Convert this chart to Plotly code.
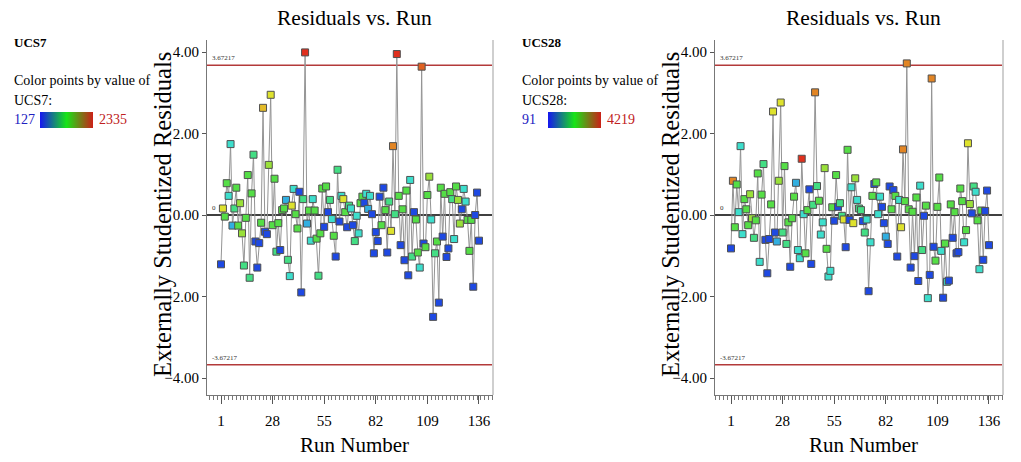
import plotly.graph_objects as go

W, H = 1021, 462

runs = list(range(1, 137))
x_ticks = [1, 28, 55, 82, 109, 136]
y_ticks = [-4, -2, 0, 2, 4]
limit = 3.67217

ucs7_resid = [
    -1.21, 0.16, -0.04, 0.78, 0.47, 1.74, -0.26, 0.16, 0.67, -0.26,
    0.29, -0.45, -1.24, -0.07, 0.98, -1.54, 0.53, 1.48, -0.65, -1.29,
    -0.69, -0.19, 2.63, -0.41, -0.47, 1.23, 2.95, -0.25, 0.89, -0.90,
    -0.20, -0.86, 0.12, 0.16, 0.37, -1.10, -1.50, 0.23, 0.64, 0.02,
    -0.33, 0.57, -1.90, 0.39, 3.99, -0.21, 0.11, -0.63, 0.39, 0.11,
    -0.58, -1.49, -0.45, 0.65, -0.29, 0.70, 0.07, 0.37, -0.10, -0.51,
    -1.02, 1.11, -0.16, 0.47, 0.39, 0.07, -0.30, 0.23, 0.16, -0.25,
    -0.64, -0.02, -0.45, 0.29, 0.45, 0.30, 0.52, 0.15, 0.47, 0.02,
    -0.94, -0.42, -0.64, 0.45, -0.25, 0.67, 0.12, -0.92, 0.33, -0.39,
    1.69, 0.02, 3.95, 0.47, -0.74, 0.14, -1.11, 0.60, -1.48, 0.86,
    -1.02, 0.07, -0.11, -0.92, -1.29, 3.64, -0.70, -0.79, 0.49, 0.94,
    -0.11, -2.50, -0.94, -0.65, -2.15, 0.67, -0.53, 0.52, -1.03, -0.82,
    0.56, 0.39, -0.59, 0.70, 0.37, -0.21, 0.14, 0.64, 0.33, -0.12,
    -0.88, -0.12, -1.76, 0.00, 0.55, -0.63,
]
ucs7_value = [
    193, 1761, 1275, 1275, 745, 745, 524, 1010, 1275, 1275,
    1518, 1518, 1010, 1275, 1275, 1010, 1275, 1010, 193, 193,
    193, 1275, 1893, 193, 193, 1518, 1761, 1275, 1275, 1010,
    1275, 193, 1275, 1275, 524, 1010, 745, 1761, 745, 1275,
    1275, 193, 193, 1010, 2291, 524, 1275, 745, 745, 1275,
    1275, 1010, 1275, 1275, 193, 1275, 193, 1010, 745, 1275,
    193, 1010, 193, 745, 1761, 1275, 193, 1010, 745, 193,
    1010, 745, 745, 1275, 1275, 193, 745, 524, 745, 193,
    193, 193, 193, 193, 1275, 193, 1275, 193, 1010, 1761,
    2048, 1010, 2291, 1275, 193, 1275, 193, 1275, 193, 745,
    1010, 193, 1275, 1275, 745, 2150, 193, 1275, 1275, 1518,
    745, 193, 1010, 1275, 193, 1275, 193, 1275, 193, 193,
    1275, 1010, 745, 1275, 1518, 1518, 193, 745, 745, 1275,
    1275, 1275, 193, 193, 193, 193,
]
ucs7_range = [127, 2335]

ucs28_resid = [
    -0.82, 0.84, -0.30, 0.75, 0.07, 1.69, -0.47, 0.39, 0.14, -0.25,
    0.51, -0.08, -0.56, -0.13, 1.02, -1.15, 0.50, 1.25, -0.61, -1.43,
    -0.59, 0.26, 2.54, -0.43, -0.65, 0.84, 2.76, -0.43, 1.20, -0.71,
    -0.18, -1.27, -0.08, 0.45, 0.79, -0.86, -1.06, 1.38, 0.02, -0.94,
    0.12, 0.63, -1.20, 0.25, 3.01, 0.71, 0.35, -0.48, -0.18, 1.15,
    -0.83, -1.51, -1.37, 0.19, -0.14, 0.98, 0.20, 0.29, -0.02, -0.11,
    -0.79, 1.60, -0.12, 0.68, -0.20, 0.90, 0.37, 0.16, 0.12, -0.15,
    -0.43, -0.11, -1.87, -0.67, 0.47, 0.76, 0.80, 0.02, 0.45, 0.20,
    -0.20, -0.53, -0.71, 0.70, 0.14, 0.61, 0.47, -1.02, 0.37, -0.30,
    1.61, 0.34, 3.72, 0.14, -1.29, 0.08, -1.01, 0.43, -1.62, 0.72,
    -0.86, -0.02, 0.23, -2.04, -1.47, 3.35, -0.78, -1.12, 0.20, 0.92,
    -0.88, -2.03, -0.70, -1.64, -1.61, 0.26, -0.56, 0.07, -0.94, -0.91,
    0.65, 0.34, -0.67, -0.37, 1.76, 0.27, 0.04, 0.70, 0.57, -0.13,
    -1.33, 0.11, -1.10, 0.10, 0.60, -0.74,
]
ucs28_value = [
    215, 3682, 2238, 2238, 1247, 1247, 1247, 2238, 2238, 2238,
    2692, 2692, 1742, 2238, 2238, 1247, 2238, 1742, 215, 215,
    215, 2238, 3146, 215, 834, 2692, 3146, 1742, 2238, 1742,
    2238, 215, 2238, 2238, 834, 1247, 1247, 4136, 1247, 2238,
    2238, 215, 215, 1742, 3682, 1742, 2238, 1247, 1247, 2692,
    2238, 1247, 1247, 2238, 215, 2238, 215, 1742, 1742, 3146,
    215, 2238, 215, 1247, 3146, 2692, 1247, 1742, 1742, 215,
    1742, 1247, 215, 1247, 2238, 215, 2238, 1247, 1247, 215,
    215, 834, 215, 215, 2238, 215, 2238, 215, 1247, 3146,
    3682, 2238, 3682, 2238, 215, 2238, 215, 2238, 215, 1247,
    1742, 215, 2238, 1247, 215, 3682, 215, 2238, 2238, 2238,
    1247, 215, 2238, 1247, 215, 2238, 215, 2238, 215, 215,
    2238, 2238, 1247, 2238, 3146, 2692, 215, 1742, 1247, 2238,
    1247, 2238, 215, 215, 215, 215,
]
ucs28_range = [91, 4219]

SERIF = "Liberation Serif, Times New Roman, serif"
point_scale = [[0, "#1a35e4"], [0.25, "#3cdede"], [0.5, "#48de48"],
               [0.75, "#e4e22c"], [1, "#e0201c"]]
bar_scale = [[0, "#1616f0"], [0.5, "#18e418"], [1, "#cc2018"]]


def px(x):
    return x / W


def py(y):
    return 1 - y / H


fig = go.Figure()

panels = [
    dict(name="UCS7", resid=ucs7_resid, val=ucs7_value, rng=ucs7_range,
         ax_left=207, ax_right=493, legend_x=12, xa="x", ya="y"),
    dict(name="UCS28", resid=ucs28_resid, val=ucs28_value, rng=ucs28_range,
         ax_left=715, ax_right=1003, legend_x=520, xa="x2", ya="y2"),
]

TOP, BOT = 40, 395
ZERO_Y, UNIT = 215, 40.75
y_lo = (ZERO_Y - BOT) / UNIT
y_hi = (ZERO_Y - TOP) / UNIT

annotations = []
shapes = []


def label(x, y, text, size, color="black", xanchor="center", angle=0):
    return dict(xref="paper", yref="paper", x=px(x), y=py(y), xanchor=xanchor,
                yanchor="middle", text=text, textangle=angle, showarrow=False,
                font=dict(family=SERIF, size=size, color=color))


for i, p in enumerate(panels):
    suffix = "" if i == 0 else "2"
    x0_px = p["ax_left"] + 14 if i == 0 else p["ax_left"] + 16
    per = 1.911
    x_lo = 1 - (x0_px - p["ax_left"]) / per
    x_hi = 1 + (p["ax_right"] - x0_px) / per

    fig.add_trace(go.Scatter(
        x=runs, y=p["resid"], mode="lines+markers",
        xaxis=p["xa"], yaxis=p["ya"], showlegend=False,
        line=dict(color="#949494", width=1),
        marker=dict(symbol="square", size=7, color=p["val"],
                    cmin=p["rng"][0], cmax=p["rng"][1],
                    colorscale=point_scale,
                    line=dict(color="#505050", width=1)),
        hoverinfo="x+y",
    ))
    lx = p["legend_x"]
    fig.add_trace(go.Scatter(
        x=[None], y=[None], mode="markers", xaxis=p["xa"], yaxis=p["ya"],
        showlegend=False, hoverinfo="skip",
        marker=dict(color=[p["rng"][0]], cmin=p["rng"][0], cmax=p["rng"][1],
                    colorscale=bar_scale, showscale=True,
                    colorbar=dict(orientation="h", x=px(lx + 28), xanchor="left",
                                  y=py(120), yanchor="middle",
                                  lenmode="pixels", len=53, thickness=16,
                                  xpad=0, ypad=0, outlinewidth=0,
                                  showticklabels=False, ticks="")),
    ))

    fig.update_layout(**{
        "xaxis" + suffix: dict(
            domain=[px(p["ax_left"]), px(p["ax_right"])], range=[x_lo, x_hi],
            anchor="y" + suffix, tickvals=x_ticks, ticks="outside", ticklen=8,
            tickcolor="#555", showline=True, linecolor="#777", linewidth=1,
            showgrid=False, zeroline=False, ticklabelstandoff=4,
            tickfont=dict(family=SERIF, size=15, color="black"),
            minor=dict(dtick=2, tick0=1, ticks="outside", ticklen=4,
                       tickcolor="#777"),
        ),
        "yaxis" + suffix: dict(
            domain=[py(BOT), py(TOP)], range=[y_lo, y_hi],
            anchor="x" + suffix, tickvals=y_ticks, tickformat=".2f",
            ticks="outside", ticklen=4, tickcolor="#555", showline=True,
            linecolor="#777", linewidth=1, showgrid=False, zeroline=False,
            tickfont=dict(family=SERIF, size=15, color="black"),
        ),
    })

    xd = p["xa"] + " domain"
    yd = p["ya"] + " domain"
    shapes += [
        dict(type="line", xref=xd, x0=0, x1=1, yref=p["ya"], y0=0, y1=0,
             line=dict(color="black", width=1.5), layer="below"),
        dict(type="line", xref=xd, x0=0, x1=1, yref=p["ya"], y0=limit, y1=limit,
             line=dict(color="#b33a3a", width=1.5), layer="below"),
        dict(type="line", xref=xd, x0=0, x1=1, yref=p["ya"], y0=-limit, y1=-limit,
             line=dict(color="#b33a3a", width=1.5), layer="below"),
        dict(type="line", xref=xd, x0=1, x1=1, yref=yd, y0=0, y1=1,
             line=dict(color="#cfcfcf", width=2), layer="below"),
    ]
    for val, txt in [(limit, "3.67217"), (0, "0"), (-limit, "-3.67217")]:
        annotations.append(dict(xref=xd, x=0.012, xanchor="left", yref=p["ya"],
                                y=val, yanchor="bottom", yshift=1, text=txt,
                                showarrow=False,
                                font=dict(family=SERIF, size=7, color="#333")))

    cx = (p["ax_left"] + p["ax_right"]) / 2 + 4
    annotations += [
        label(cx, 18, "Residuals vs. Run", 21.5),
        label(cx, 445, "Run Number", 21),
        label(p["ax_left"] - 45, 215, "Externally Studentized Residuals", 24.5,
              angle=-90),
        label(lx, 42, "<b>" + p["name"] + "</b>", 13, xanchor="left"),
        label(lx, 80, "Color points by value of", 14, xanchor="left"),
        label(lx, 100, p["name"] + ":", 14, xanchor="left"),
        label(lx, 120, str(p["rng"][0]), 14, color="#2020c0", xanchor="left"),
        label(lx + 85, 120, str(p["rng"][1]), 14, color="#c02020", xanchor="left"),
    ]

fig.update_layout(
    width=W, height=H, margin=dict(l=0, r=0, t=0, b=0),
    paper_bgcolor="white", plot_bgcolor="white",
    annotations=annotations, shapes=shapes, showlegend=False,
)

fig.write_html("out.html")
